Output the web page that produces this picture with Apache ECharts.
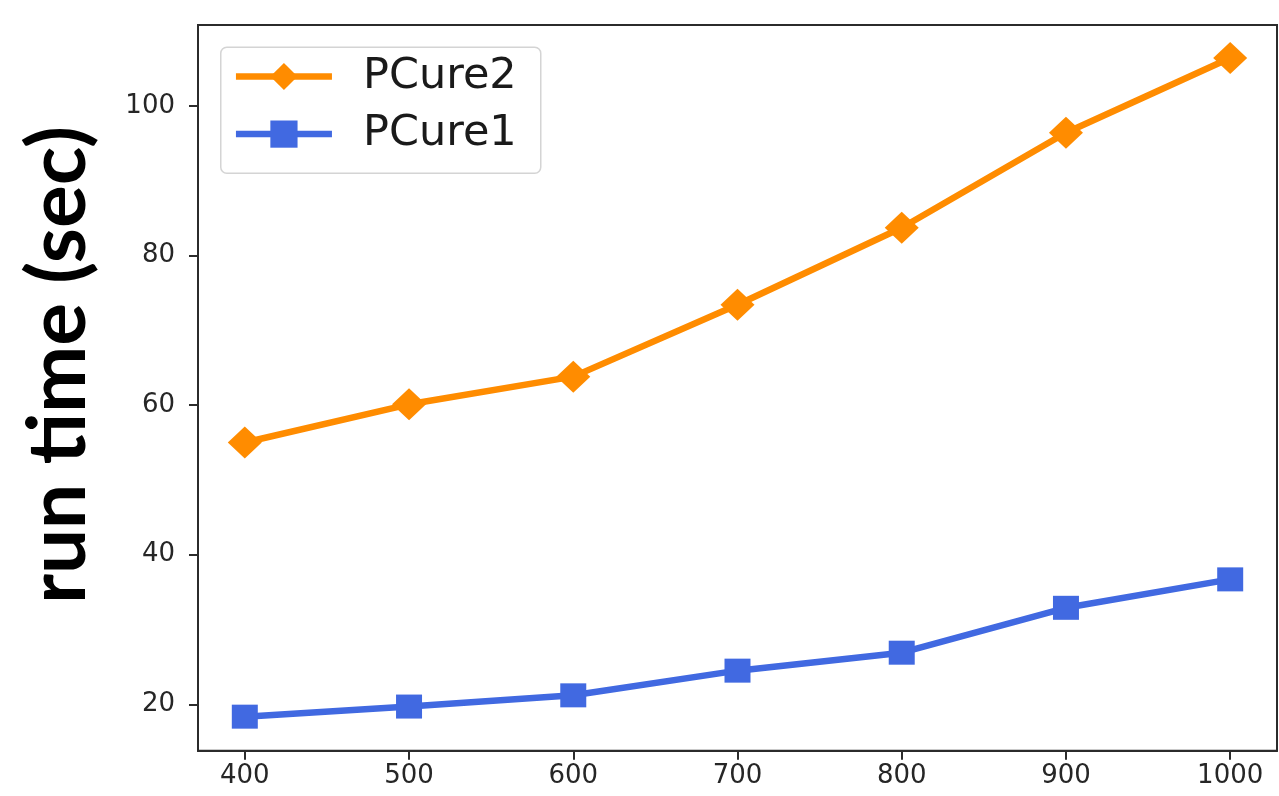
<!DOCTYPE html>
<html>
<head>
<meta charset="utf-8">
<script src="https://cdn.jsdelivr.net/npm/echarts@6/dist/echarts.min.js"></script>
<style>
html,body{margin:0;padding:0;background:#fff;}
#chart{width:1279px;height:796px;}
</style>
</head>
<body>
<div id="chart"></div>
<script>
const xValues = [400, 500, 600, 700, 800, 900, 1000];
const pcure2 = [55.0, 60.1, 63.8, 73.4, 83.7, 96.4, 106.4];
const pcure1 = [18.35, 19.7, 21.2, 24.5, 26.9, 32.9, 36.7];
const xTicks = [400, 500, 600, 700, 800, 900, 1000];
const yTicks = [20, 40, 60, 80, 100];
const yTitle = 'run time (sec)';

const chart = echarts.init(document.getElementById('chart'), null, {renderer: 'canvas'});
const axisColor = '#2b2b2b';
const tickFont = {fontFamily: 'DejaVu Sans', fontSize: 26, color: '#262626', formatter: v => String(v)};

chart.setOption({
  animation: false,
  backgroundColor: '#fff',
  grid: {left: 198, top: 25, right: 2, bottom: 45.3, show: true, borderColor: axisColor, borderWidth: 2, backgroundColor: 'transparent'},
  xAxis: {
    type: 'value', min: 371.5, max: 1028.5,
    axisLine: {show: true, lineStyle: {color: axisColor, width: 2}},
    axisTick: {show: true, customValues: xTicks, length: 9, lineStyle: {color: axisColor, width: 2}},
    axisLabel: Object.assign({customValues: xTicks, margin: 13}, tickFont),
    splitLine: {show: false}
  },
  yAxis: {
    type: 'value', min: 13.8, max: 110.8,
    axisLine: {show: true, lineStyle: {color: axisColor, width: 2}},
    axisTick: {show: true, customValues: yTicks, length: 9, lineStyle: {color: axisColor, width: 2}},
    axisLabel: Object.assign({customValues: yTicks, margin: 23}, tickFont),
    splitLine: {show: false}
  },
  graphic: [
    {type: 'rect', left: 220, top: 46.5, shape: {width: 320, height: 126, r: 6}, style: {fill: '#fff', stroke: '#d4d4d4', lineWidth: 1.5}, z: 90},
    {type: 'text', x: 59, y: 365, rotation: Math.PI / 2, style: {text: yTitle, font: 'bold 80px Lato', fill: '#000', align: 'center', verticalAlign: 'middle'}}
  ],
  legend: {
    data: ['PCure2', 'PCure1'],
    orient: 'vertical', left: 220, top: 46.5,
    padding: [7, 14, 15, 12.7],
    itemGap: 11.6, itemWidth: 96, itemHeight: 34,
    lineStyle: {width: 6.5},
    textStyle: {fontFamily: 'DejaVu Sans', fontSize: 43, lineHeight: 46, color: '#1a1a1a', padding: [0, 0, 0, 26]},
    z: 100
  },
  series: [
    {
      name: 'PCure2', type: 'line',
      data: xValues.map((x, i) => [x, pcure2[i]]),
      symbol: 'diamond', symbolSize: [34, 32],
      lineStyle: {color: '#ff8c00', width: 6.5},
      itemStyle: {color: '#ff8c00'}, z: 3
    },
    {
      name: 'PCure1', type: 'line',
      data: xValues.map((x, i) => [x, pcure1[i]]),
      symbol: 'rect', symbolSize: [26, 24],
      lineStyle: {color: '#4169e1', width: 6.5},
      itemStyle: {color: '#4169e1'}, z: 3
    }
  ]
});
</script>
</body>
</html>
